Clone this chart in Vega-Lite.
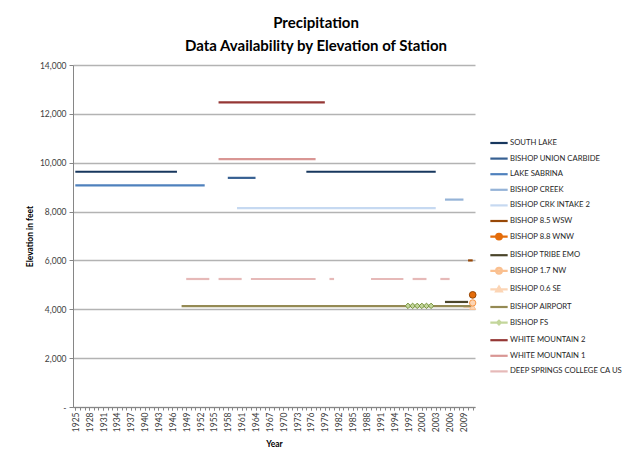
{
  "$schema": "https://vega.github.io/schema/vega-lite/v6.json",
  "width": 402,
  "height": 342,
  "autosize": {"type": "none"},
  "padding": {"left": 73, "top": 65, "right": 149, "bottom": 44},
  "background": "white",
  "config": {"font": "Lato", "view": {"stroke": null}},
  "title": {
    "text": ["Precipitation", "Data Availability by Elevation of Station"],
    "fontSize": 15,
    "fontWeight": "bold",
    "color": "#000000",
    "anchor": "middle",
    "dx": 42,
    "offset": 7,
    "lineHeight": 23,
    "font": "Lato"
  },
  "datasets": {
    "segs": [
      {"station": "SOUTH LAKE", "start": 1925, "end": 1947, "elev": 9630},
      {"station": "SOUTH LAKE", "start": 1975, "end": 2003, "elev": 9630},
      {"station": "BISHOP UNION CARBIDE", "start": 1958, "end": 1964, "elev": 9380},
      {"station": "LAKE SABRINA", "start": 1925, "end": 1953, "elev": 9070},
      {"station": "BISHOP CREEK", "start": 2005, "end": 2009, "elev": 8490},
      {"station": "BISHOP CRK INTAKE 2", "start": 1960, "end": 2003, "elev": 8140},
      {"station": "BISHOP 8.5 WSW", "start": 2010, "end": 2011, "elev": 6000},
      {"station": "BISHOP TRIBE EMO", "start": 2005, "end": 2010, "elev": 4300},
      {"station": "BISHOP 0.6 SE", "start": 2009, "end": 2011, "elev": 4100},
      {"station": "BISHOP AIRPORT", "start": 1948, "end": 2011, "elev": 4130},
      {"station": "BISHOP FS", "start": 1997, "end": 2002, "elev": 4140},
      {"station": "WHITE MOUNTAIN 2", "start": 1956, "end": 1979, "elev": 12470},
      {"station": "WHITE MOUNTAIN 1", "start": 1956, "end": 1977, "elev": 10150},
      {"station": "DEEP SPRINGS COLLEGE CA US", "start": 1949, "end": 1954, "elev": 5240},
      {"station": "DEEP SPRINGS COLLEGE CA US", "start": 1956, "end": 1961, "elev": 5240},
      {"station": "DEEP SPRINGS COLLEGE CA US", "start": 1963, "end": 1977, "elev": 5240},
      {"station": "DEEP SPRINGS COLLEGE CA US", "start": 1980, "end": 1981, "elev": 5240},
      {"station": "DEEP SPRINGS COLLEGE CA US", "start": 1989, "end": 1996, "elev": 5240},
      {"station": "DEEP SPRINGS COLLEGE CA US", "start": 1998, "end": 2001, "elev": 5240},
      {"station": "DEEP SPRINGS COLLEGE CA US", "start": 2004, "end": 2006, "elev": 5240}
    ],
    "pts": [
      {"station": "BISHOP FS", "year": 1997, "elev": 4140},
      {"station": "BISHOP FS", "year": 1998, "elev": 4140},
      {"station": "BISHOP FS", "year": 1999, "elev": 4140},
      {"station": "BISHOP FS", "year": 2000, "elev": 4140},
      {"station": "BISHOP FS", "year": 2001, "elev": 4140},
      {"station": "BISHOP FS", "year": 2002, "elev": 4140},
      {"station": "BISHOP 0.6 SE", "year": 2011, "elev": 4100},
      {"station": "BISHOP 1.7 NW", "year": 2011, "elev": 4260},
      {"station": "BISHOP 8.8 WNW", "year": 2011, "elev": 4590}
    ]
  },
  "resolve": {"axis": {"x": "independent"}},
  "layer": [
    {
      "data": {"name": "segs"},
      "mark": {"type": "rule", "strokeWidth": 2.2},
      "encoding": {
        "x": {
          "field": "start",
          "type": "quantitative",
          "scale": {"domain": [1924.5, 2011.5], "nice": false, "zero": false},
          "axis": {
            "orient": "bottom",
            "title": "Year",
            "titleFontSize": 8.5,
            "titleFontWeight": "bold",
            "titleColor": "#000000",
            "titlePadding": 8,
            "values": [1925,1928,1931,1934,1937,1940,1943,1946,1949,1952,1955,1958,1961,1964,1967,1970,1973,1976,1979,1982,1985,1988,1991,1994,1997,2000,2003,2006,2009],
            "labelExpr": "'' + datum.value",
            "labelAngle": -90,
            "labelFontSize": 8.5,
            "labelColor": "#404040",
            "labelOverlap": false,
            "labelFlush": false,
            "labelBound": false,
            "labelPadding": 2,
            "tickSize": 3,
            "tickColor": "#868686",
            "domainColor": "#868686",
            "domainWidth": 1,
            "grid": false
          }
        },
        "x2": {"field": "end"},
        "y": {
          "field": "elev",
          "type": "quantitative",
          "scale": {"domain": [0, 14000], "nice": false},
          "axis": {
            "title": "Elevation in feet",
            "titleFontSize": 8.5,
            "titleFontWeight": "bold",
            "titleColor": "#000000",
            "titlePadding": 5,
            "values": [0, 2000, 4000, 6000, 8000, 10000, 12000, 14000],
            "labelExpr": "datum.value == 0 ? '-' : format(datum.value, ',')",
            "labelFontSize": 8.5,
            "labelColor": "#404040",
            "labelPadding": 3,
            "tickSize": 4,
            "tickColor": "#868686",
            "domainColor": "#868686",
            "grid": true,
            "gridColor": "#B3B3B3",
            "gridWidth": 1.3
          }
        },
        "color": {
          "field": "station",
          "type": "nominal",
          "scale": {
            "domain": ["SOUTH LAKE", "BISHOP UNION CARBIDE", "LAKE SABRINA", "BISHOP CREEK", "BISHOP CRK INTAKE 2", "BISHOP 8.5 WSW", "BISHOP 8.8 WNW", "BISHOP TRIBE EMO", "BISHOP 1.7 NW", "BISHOP 0.6 SE", "BISHOP AIRPORT", "BISHOP FS", "WHITE MOUNTAIN 2", "WHITE MOUNTAIN 1", "DEEP SPRINGS COLLEGE CA US"],
            "range": ["#17375E", "#376092", "#4F81BD", "#95B3D7", "#C6D9F1", "#984807", "#E46C0A", "#4A452A", "#FAC090", "#FCD5B5", "#948A54", "#C3D69B", "#953735", "#D99694", "#E6B9B8"]
          },
          "legend": {
            "orient": "none",
            "legendX": 416,
            "legendY": 68,
            "title": null,
            "symbolType": "stroke",
            "symbolSize": 300,
            "symbolStrokeWidth": 2.2,
            "labelFontSize": 7.7,
            "labelColor": "#262626",
            "labelOffset": 1,
            "labelLimit": 200,
            "rowPadding": 0.6,
            "encode": {
              "symbols": {
                "update": {
                  "shape": {"signal": "datum.value === 'BISHOP 8.8 WNW' || datum.value === 'BISHOP 1.7 NW' ? 'M-1,0L1,0M-0.33,0A0.33,0.33,0,1,1,0.33,0A0.33,0.33,0,1,1,-0.33,0Z' : datum.value === 'BISHOP 0.6 SE' ? 'M-1,0L1,0M0,-0.33L0.33,0.23L-0.33,0.23Z' : datum.value === 'BISHOP FS' ? 'M-1,0L1,0M0,-0.22L0.22,0L0,0.22L-0.22,0Z' : 'stroke'"},
                  "fill": {"signal": "datum.value === 'BISHOP 8.8 WNW' ? '#E46C0A' : datum.value === 'BISHOP 1.7 NW' ? '#FCD5B4' : datum.value === 'BISHOP 0.6 SE' ? '#FCD5B4' : datum.value === 'BISHOP FS' ? '#C3D69B' : 'transparent'"}
                }
              }
            }
          }
        }
      }
    },
    {
      "data": {"name": "pts"},
      "mark": {"type": "point", "filled": true, "strokeWidth": 1, "opacity": 1},
      "encoding": {
        "x": {
          "field": "year",
          "type": "quantitative",
          "axis": {
            "orient": "bottom",
            "title": null,
            "labels": false,
            "domain": false,
            "grid": false,
            "values": [1925,1926,1927,1928,1929,1930,1931,1932,1933,1934,1935,1936,1937,1938,1939,1940,1941,1942,1943,1944,1945,1946,1947,1948,1949,1950,1951,1952,1953,1954,1955,1956,1957,1958,1959,1960,1961,1962,1963,1964,1965,1966,1967,1968,1969,1970,1971,1972,1973,1974,1975,1976,1977,1978,1979,1980,1981,1982,1983,1984,1985,1986,1987,1988,1989,1990,1991,1992,1993,1994,1995,1996,1997,1998,1999,2000,2001,2002,2003,2004,2005,2006,2007,2008,2009,2010,2011],
            "tickSize": 3,
            "tickColor": "#868686"
          }
        },
        "y": {"field": "elev", "type": "quantitative"},
        "fill": {
          "field": "station",
          "type": "nominal",
          "scale": {"domain": ["BISHOP FS", "BISHOP 0.6 SE", "BISHOP 1.7 NW", "BISHOP 8.8 WNW"], "range": ["#C3D69B", "#FCD5B4", "#FCD5B4", "#E46C0A"]},
          "legend": null
        },
        "stroke": {
          "field": "station",
          "type": "nominal",
          "scale": {"domain": ["BISHOP FS", "BISHOP 0.6 SE", "BISHOP 1.7 NW", "BISHOP 8.8 WNW"], "range": ["#76923C", "#FAC090", "#F79646", "#984807"]},
          "legend": null
        },
        "shape": {
          "field": "station",
          "type": "nominal",
          "scale": {"domain": ["BISHOP FS", "BISHOP 0.6 SE", "BISHOP 1.7 NW", "BISHOP 8.8 WNW"], "range": ["diamond", "triangle-up", "circle", "circle"]},
          "legend": null
        },
        "size": {
          "field": "station",
          "type": "nominal",
          "scale": {"domain": ["BISHOP FS", "BISHOP 0.6 SE", "BISHOP 1.7 NW", "BISHOP 8.8 WNW"], "range": [30, 45, 55, 55]},
          "legend": null
        }
      }
    }
  ]
}
